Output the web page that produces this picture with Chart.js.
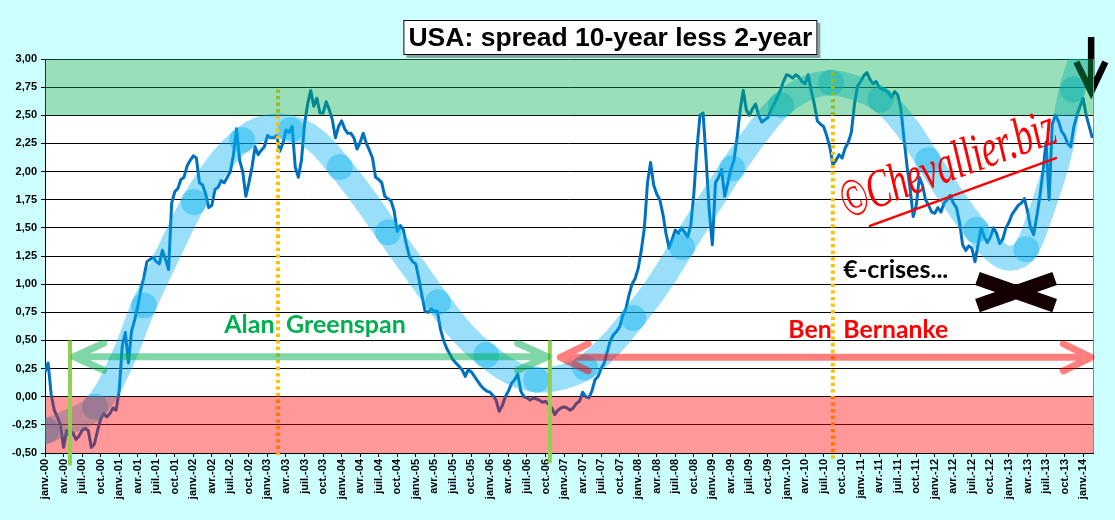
<!DOCTYPE html>
<html><head><meta charset="utf-8">
<script src="https://cdn.jsdelivr.net/npm/chart.js@4.4.1/dist/chart.umd.min.js"></script>
<style>html,body{margin:0;padding:0;background:#CCFFFF;overflow:hidden}canvas{display:block}</style>
</head><body>
<canvas id="c" width="1115" height="520"></canvas>
<script>
// ---- DATA ----
// spread 10y - 2y (%), one value every half month starting janv. 2000
const stepMonths = 0.5;
const spread = [
 0.22,0.30,0.02,-0.12,-0.18,-0.25,-0.45,-0.30,-0.35,-0.32,-0.38,-0.35,-0.30,-0.28,-0.30,-0.45,-0.42,-0.30,-0.20,-0.15,-0.18,-0.15,-0.10,-0.12,
 0.05,0.45,0.57,0.30,0.58,0.68,0.80,0.95,1.06,1.20,1.22,1.24,1.20,1.18,1.30,1.22,1.13,1.72,1.82,1.85,1.93,1.95,2.05,2.10,
 2.14,2.12,1.90,1.88,1.80,1.68,1.70,1.84,1.86,1.92,1.90,1.95,2.00,2.15,2.38,2.10,2.00,1.78,1.90,2.04,2.22,2.15,2.19,2.22,
 2.32,2.30,2.30,2.32,2.18,2.25,2.37,2.35,2.40,2.04,1.95,2.10,2.42,2.60,2.72,2.58,2.65,2.52,2.52,2.62,2.55,2.46,2.30,2.40,
 2.45,2.38,2.34,2.34,2.30,2.20,2.26,2.34,2.25,2.19,2.12,1.95,1.93,1.90,1.78,1.76,1.74,1.65,1.47,1.52,1.48,1.35,1.24,1.20,
 1.18,1.05,0.90,0.76,0.75,0.78,0.76,0.76,0.60,0.50,0.43,0.38,0.33,0.30,0.27,0.24,0.18,0.24,0.22,0.18,0.14,0.10,0.07,0.05,
 0.04,0.01,-0.03,-0.13,-0.08,0.00,0.05,0.12,0.15,0.20,0.05,0.00,-0.01,-0.03,-0.01,-0.02,-0.03,-0.05,-0.04,-0.07,-0.10,-0.16,-0.12,-0.10,
 -0.09,-0.10,-0.12,-0.10,-0.06,-0.04,0.04,0.00,-0.01,0.05,0.15,0.18,0.25,0.30,0.40,0.50,0.55,0.58,0.62,0.72,0.78,0.90,1.00,1.05,
 1.14,1.30,1.50,1.90,2.08,1.88,1.80,1.75,1.62,1.45,1.32,1.40,1.48,1.45,1.50,1.46,1.42,1.52,1.80,2.20,2.50,2.52,2.10,1.65,
 1.35,1.90,1.95,2.02,1.78,1.90,2.02,2.10,2.30,2.55,2.72,2.55,2.50,2.56,2.60,2.50,2.44,2.46,2.48,2.55,2.60,2.66,2.72,2.80,
 2.86,2.85,2.83,2.86,2.84,2.80,2.78,2.86,2.72,2.60,2.45,2.42,2.40,2.32,2.22,2.06,2.10,2.15,2.12,2.21,2.26,2.35,2.60,2.76,
 2.80,2.85,2.88,2.82,2.78,2.80,2.75,2.73,2.72,2.70,2.66,2.71,2.68,2.56,2.30,2.05,1.85,1.60,1.70,1.95,1.88,1.75,1.70,1.64,
 1.63,1.68,1.64,1.72,1.75,1.79,1.72,1.68,1.55,1.35,1.30,1.34,1.32,1.20,1.35,1.50,1.42,1.37,1.42,1.50,1.45,1.36,1.40,1.50,
 1.55,1.62,1.66,1.70,1.72,1.76,1.65,1.50,1.44,1.60,1.78,2.00,2.26,1.75,2.42,2.50,2.45,2.36,2.32,2.25,2.22,2.40,2.50,2.58,
 2.65,2.50,2.40,2.30
];
const quarterNames = ['janv.','avr.','juil.','oct.'];
const tickMonths = [];
for (let m = 0; m <= 168; m += 3) tickMonths.push(m);
const yTicks = [-0.5,-0.25,0,0.25,0.5,0.75,1,1.25,1.5,1.75,2,2.25,2.5,2.75,3];

// hand-drawn "wave" trend band (months since janv. 2000, spread value)
const waveMonths = [-1,0,4,8.1,12.1,16,20.2,24.1,28,31.9,35.6,39.7,43.7,47.7,51.8,55.5,59.7,63.6,67.5,71.4,75.4,79.5,83.4,87.4,91.5,95.2,99.2,103.1,107.2,111.2,115.2,119.1,123.2,127.2,131.3,135.2,139.2,142.9,146.8,150.7,153.8,156.2,158.6,161.0,164.1,166.1,168.0,169.5];
const waveValues = [-0.33,-0.31,-0.22,-0.09,0.28,0.81,1.30,1.73,2.06,2.28,2.39,2.39,2.28,2.04,1.75,1.46,1.14,0.84,0.57,0.37,0.22,0.15,0.17,0.26,0.46,0.70,0.99,1.33,1.69,2.03,2.34,2.59,2.74,2.79,2.74,2.64,2.41,2.10,1.77,1.48,1.29,1.23,1.30,1.61,2.15,2.72,3.04,3.26];
const circleMonths = [0.2,8.1,16.0,24.1,31.9,39.7,47.7,55.5,63.6,71.4,79.5,87.4,95.2,103.1,111.2,119.1,127.2,135.2,142.9,150.7,158.8,166.4];
const circleValues = [-0.30,-0.09,0.81,1.73,2.28,2.37,2.04,1.46,0.84,0.37,0.15,0.26,0.70,1.33,2.03,2.59,2.79,2.64,2.10,1.48,1.31,2.73];

// ---- annotation layout (in data units) ----
const ann = {
  greenZone: [2.5, 3.0],
  redZone: [-0.5, 0],
  dotted: [{m:37.7, from:2.73, to:-0.52}, {m:127.5, from:2.88, to:-0.56}],
  greenBars: [{m:4.05, from:0.5, to:-0.61}, {m:81.7, from:0.5, to:-0.59}],
  greenspanArrow: {m1:4.7, m2:81.3, v:0.355, head:4.8, dv:0.12},
  bernankeArrow: {m1:83.4, m2:169.3, v:0.35, head:4.5, dv:0.12},
  downArrow: {m:169.3, top:3.195, tip:2.707, armL:166.9, armR:171.6, armV:2.975},
  cross: {m1:150.9, m2:163.4, v1:1.05, v2:0.81}
};

const pts = spread.map((v, i) => ({x: i * stepMonths, y: v}));
const wavePts = waveMonths.map((m, i) => ({x: m, y: waveValues[i]}));
const circlePts = circleMonths.map((m, i) => ({x: m, y: circleValues[i]}));

function fitFont(ctx, text, tmpl, target) {
  ctx.font = tmpl.replace('SZ', '24px');
  const w = ctx.measureText(text).width;
  const sz = 24 * target / w;
  return tmpl.replace('SZ', sz.toFixed(2) + 'px');
}

const annotPlugin = {
  id: 'annot',
  beforeDraw(chart) {
    const {ctx, chartArea: ca} = chart;
    ctx.save();
    ctx.fillStyle = '#FFFFFF';
    ctx.fillRect(ca.left, ca.top, ca.right - ca.left, ca.bottom - ca.top);
    ctx.restore();
  },
  afterDatasetsDraw(chart) {
    const {ctx, chartArea: ca} = chart;
    const X = m => chart.scales.x.getPixelForValue(m);
    const Y = v => chart.scales.y.getPixelForValue(v);
    ctx.save();
    // dotted vertical lines
    ctx.strokeStyle = '#FFC000'; ctx.lineWidth = 4; ctx.setLineDash([3.3, 3.3]);
    for (const d of ann.dotted) {
      ctx.beginPath(); ctx.moveTo(X(d.m), Y(d.from)); ctx.lineTo(X(d.m), Y(d.to)); ctx.stroke();
    }
    ctx.setLineDash([]);
    // black down arrow (top right)
    const da = ann.downArrow;
    ctx.strokeStyle = '#000'; ctx.lineWidth = 6.5; ctx.lineJoin = 'miter'; ctx.lineCap = 'butt';
    ctx.beginPath();
    ctx.moveTo(X(da.m), Y(da.top)); ctx.lineTo(X(da.m), Y(da.tip) - 4);
    ctx.moveTo(X(da.armL), Y(da.armV)); ctx.lineTo(X(da.m), Y(da.tip)); ctx.lineTo(X(da.armR), Y(da.armV));
    ctx.stroke();
    // zones
    ctx.fillStyle = 'rgba(0,176,80,0.4)';
    ctx.fillRect(ca.left, Y(ann.greenZone[1]), ca.right - ca.left, Y(ann.greenZone[0]) - Y(ann.greenZone[1]));
    ctx.fillStyle = 'rgba(255,0,0,0.4)';
    ctx.fillRect(ca.left, Y(ann.redZone[1]), ca.right - ca.left, Y(ann.redZone[0]) - Y(ann.redZone[1]));
    // right border
    ctx.strokeStyle = '#8a8a8a'; ctx.lineWidth = 1;
    ctx.beginPath(); ctx.moveTo(ca.right + 0.5, ca.top); ctx.lineTo(ca.right + 0.5, ca.bottom); ctx.stroke();
    // green vertical bars
    ctx.strokeStyle = '#92D050'; ctx.lineWidth = 4;
    for (const g of ann.greenBars) {
      ctx.beginPath(); ctx.moveTo(X(g.m), Y(g.from)); ctx.lineTo(X(g.m), Y(g.to)); ctx.stroke();
    }
    // double arrows
    function dblArrow(a, color) {
      ctx.strokeStyle = color; ctx.lineWidth = 7; ctx.lineCap = 'round'; ctx.lineJoin = 'round';
      const y = Y(a.v), dy = Y(a.v - a.dv) - y;
      const x1 = X(a.m1), x2 = X(a.m2), hx1 = X(a.m1 + a.head), hx2 = X(a.m2 - a.head);
      ctx.beginPath();
      ctx.moveTo(hx1, y - dy); ctx.lineTo(x1, y); ctx.lineTo(hx1, y + dy);
      ctx.moveTo(x1, y); ctx.lineTo(x2, y);
      ctx.moveTo(hx2, y - dy); ctx.lineTo(x2, y); ctx.lineTo(hx2, y + dy);
      ctx.stroke();
    }
    dblArrow(ann.greenspanArrow, 'rgba(0,176,80,0.5)');
    dblArrow(ann.bernankeArrow, 'rgba(255,0,0,0.5)');
    // labels
    ctx.textBaseline = 'alphabetic'; ctx.textAlign = 'left';
    const f1 = fitFont(ctx, 'Greenspan', 'bold SZ Lato', 120);
    ctx.font = f1; ctx.fillStyle = '#00B050';
    ctx.fillText('Alan', X(29.0), Y(0.566));
    ctx.fillText('Greenspan', X(39.0), Y(0.566));
    const f2 = fitFont(ctx, 'Bernanke', 'bold SZ Lato', 105);
    ctx.font = f2; ctx.fillStyle = '#FF0000';
    ctx.fillText('Ben', X(120.3), Y(0.52));
    ctx.fillText('Bernanke', X(129.2), Y(0.52));
    ctx.font = fitFont(ctx, '€-crises...', 'bold SZ Lato', 105); ctx.fillStyle = '#000';
    ctx.fillText('€-crises...', X(129.2), Y(1.055));
    // black cross
    const c = ann.cross;
    ctx.strokeStyle = '#140000'; ctx.lineWidth = 14; ctx.lineCap = 'butt';
    ctx.beginPath();
    ctx.moveTo(X(c.m1), Y(c.v1)); ctx.lineTo(X(c.m2), Y(c.v2));
    ctx.moveTo(X(c.m2), Y(c.v1)); ctx.lineTo(X(c.m1), Y(c.v2));
    ctx.stroke();
    // logo
    const ux1 = X(133.5), uy1 = Y(1.517), ux2 = X(163.6), uy2 = Y(2.12);
    const ang = Math.atan2(uy2 - uy1, ux2 - ux1);
    ctx.save();
    ctx.translate(X(129.8), Y(1.58)); ctx.rotate(ang); ctx.scale(1, 1.5);
    ctx.font = fitFont(ctx, '©Chevallier.biz', 'italic SZ "Liberation Serif"', 226);
    ctx.fillStyle = '#FF0000';
    ctx.fillText('©Chevallier.biz', 0, 0);
    ctx.restore();
    ctx.strokeStyle = '#FF0000'; ctx.lineWidth = 2.5; ctx.lineCap = 'round';
    ctx.beginPath(); ctx.moveTo(ux1, uy1); ctx.lineTo(ux2, uy2); ctx.stroke();
    ctx.restore();
  },
  afterDraw(chart) {
    const {ctx, chartArea: ca} = chart;
    const X = m => chart.scales.x.getPixelForValue(m);
    const title = 'USA: spread 10-year less 2-year';
    ctx.save();
    ctx.font = fitFont(ctx, title, 'bold SZ "Liberation Sans"', 404);
    const cx = X(91.5), w = 414, h = 35, top = ca.top - 39;
    ctx.fillStyle = 'rgba(0,0,0,0.35)';
    ctx.fillRect(cx - w / 2 + 3, top + 3, w, h);
    ctx.fillStyle = '#FFFFFF';
    ctx.fillRect(cx - w / 2, top, w, h);
    ctx.strokeStyle = '#000'; ctx.lineWidth = 1;
    ctx.strokeRect(cx - w / 2 + 0.5, top + 0.5, w - 1, h - 1);
    ctx.fillStyle = '#000'; ctx.textAlign = 'center'; ctx.textBaseline = 'alphabetic';
    ctx.fillText(title, cx, top + 26);
    ctx.restore();
  }
};

new Chart(document.getElementById('c'), {
  type: 'line',
  data: {
    datasets: [
      {label: 'circles', data: circlePts, showLine: false, pointRadius: 13, pointHoverRadius: 13,
       pointBackgroundColor: 'rgba(0,176,240,0.4)', pointBorderWidth: 0, clip: 0, order: 1},
      {label: 'wave', data: wavePts, borderColor: 'rgba(0,176,240,0.4)', borderWidth: 25, tension: 0.4,
       pointRadius: 0, borderCapStyle: 'butt', clip: 0, order: 2},
      {label: 'spread', data: pts, borderColor: '#0070C0', borderWidth: 3, pointRadius: 0,
       tension: 0, clip: 0, order: 3, borderJoinStyle: 'round'}
    ]
  },
  options: {
    responsive: false, animation: false, events: [],
    layout: {padding: {top: 59, right: 22, left: 0, bottom: 0}},
    plugins: {legend: {display: false}, tooltip: {enabled: false}, title: {display: false}},
    scales: {
      x: {
        type: 'linear', min: 0, max: 169.6,
        afterFit: s => { s.height = 67; },
        afterBuildTicks: s => { s.ticks = tickMonths.map(v => ({value: v})); },
        grid: {drawOnChartArea: false, drawTicks: true, tickLength: 4, tickColor: '#000'},
        border: {display: true, color: '#000', width: 1},
        ticks: {
          autoSkip: false, minRotation: 90, maxRotation: 90, padding: 2, color: '#000',
          font: {family: '"Liberation Sans", Arial', weight: 'bold', size: 11},
          callback: v => quarterNames[(v % 12) / 3] + '-' + String(Math.floor(v / 12)).padStart(2, '0')
        }
      },
      y: {
        min: -0.5, max: 3.0,
        afterFit: s => { s.width = 45; },
        afterBuildTicks: s => { s.ticks = yTicks.map(v => ({value: v})); },
        grid: {color: '#000', lineWidth: 1, tickLength: 4, tickColor: '#000'},
        border: {display: true, color: '#000', width: 1},
        ticks: {
          padding: 4, color: '#000',
          font: {family: '"Liberation Sans", Arial', weight: 'bold', size: 11},
          callback: v => v.toFixed(2).replace('.', ',')
        }
      }
    }
  },
  plugins: [annotPlugin]
});
</script>
</body></html>
